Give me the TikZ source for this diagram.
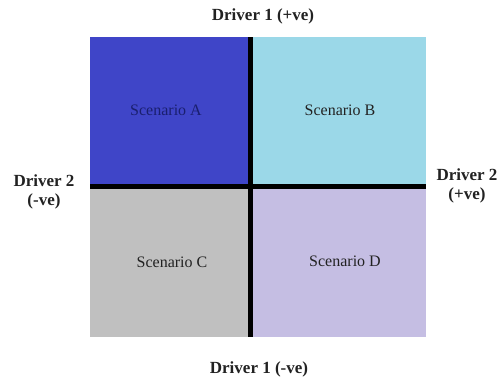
\documentclass[tikz,border=0pt]{standalone}
\usepackage{fontspec}
\setmainfont{Liberation Serif}
\definecolor{cA}{HTML}{3F45C8}
\definecolor{cB}{HTML}{9BD8E8}
\definecolor{cC}{HTML}{C0C0C0}
\definecolor{cD}{HTML}{C5BEE3}
\definecolor{tA}{HTML}{1A1F6E}
\definecolor{tx}{HTML}{222222}
\begin{document}
\begin{tikzpicture}[x=1pt,y=-1pt,
  scen/.style={font=\fontsize{16}{18}\selectfont, text=tx},
  drv/.style={font=\fontsize{17}{19}\selectfont\bfseries, text=tx, align=center},
  axis/.style={line width=5pt, black}]
\useasboundingbox (0,0) rectangle (502,378);
\fill[white] (0,0) rectangle (502,378);
\fill[cA] (90,37) rectangle (250.5,186.5);
\fill[cB] (250.5,37) rectangle (426,186.5);
\fill[cC] (90,186.5) rectangle (250.5,337);
\fill[cD] (250.5,186.5) rectangle (426,337);
\node[scen, text=tA] (A) at (166,110) {Scenario A};
\node[scen] (B) at (340,110) {Scenario B};
\node[scen] (C) at (172,262) {Scenario C};
\node[scen] (D) at (345,261) {Scenario D};
\coordinate (vt) at (250.5,37);
\coordinate (vb) at (250.5,337);
\coordinate (hl) at (90,186.5);
\coordinate (hr) at (426,186.5);
\draw[axis] (vt) -- (vb);
\draw[axis] (hl) -- (hr);
\node[drv] (top) at (263,16) {Driver 1 (+ve)};
\node[drv] (bot) at (259,369) {Driver 1 (-ve)};
\node[drv] (left) at (44,192) {Driver 2\\(-ve)};
\node[drv] (right) at (467,186) {Driver 2\\(+ve)};
\end{tikzpicture}
\end{document}
